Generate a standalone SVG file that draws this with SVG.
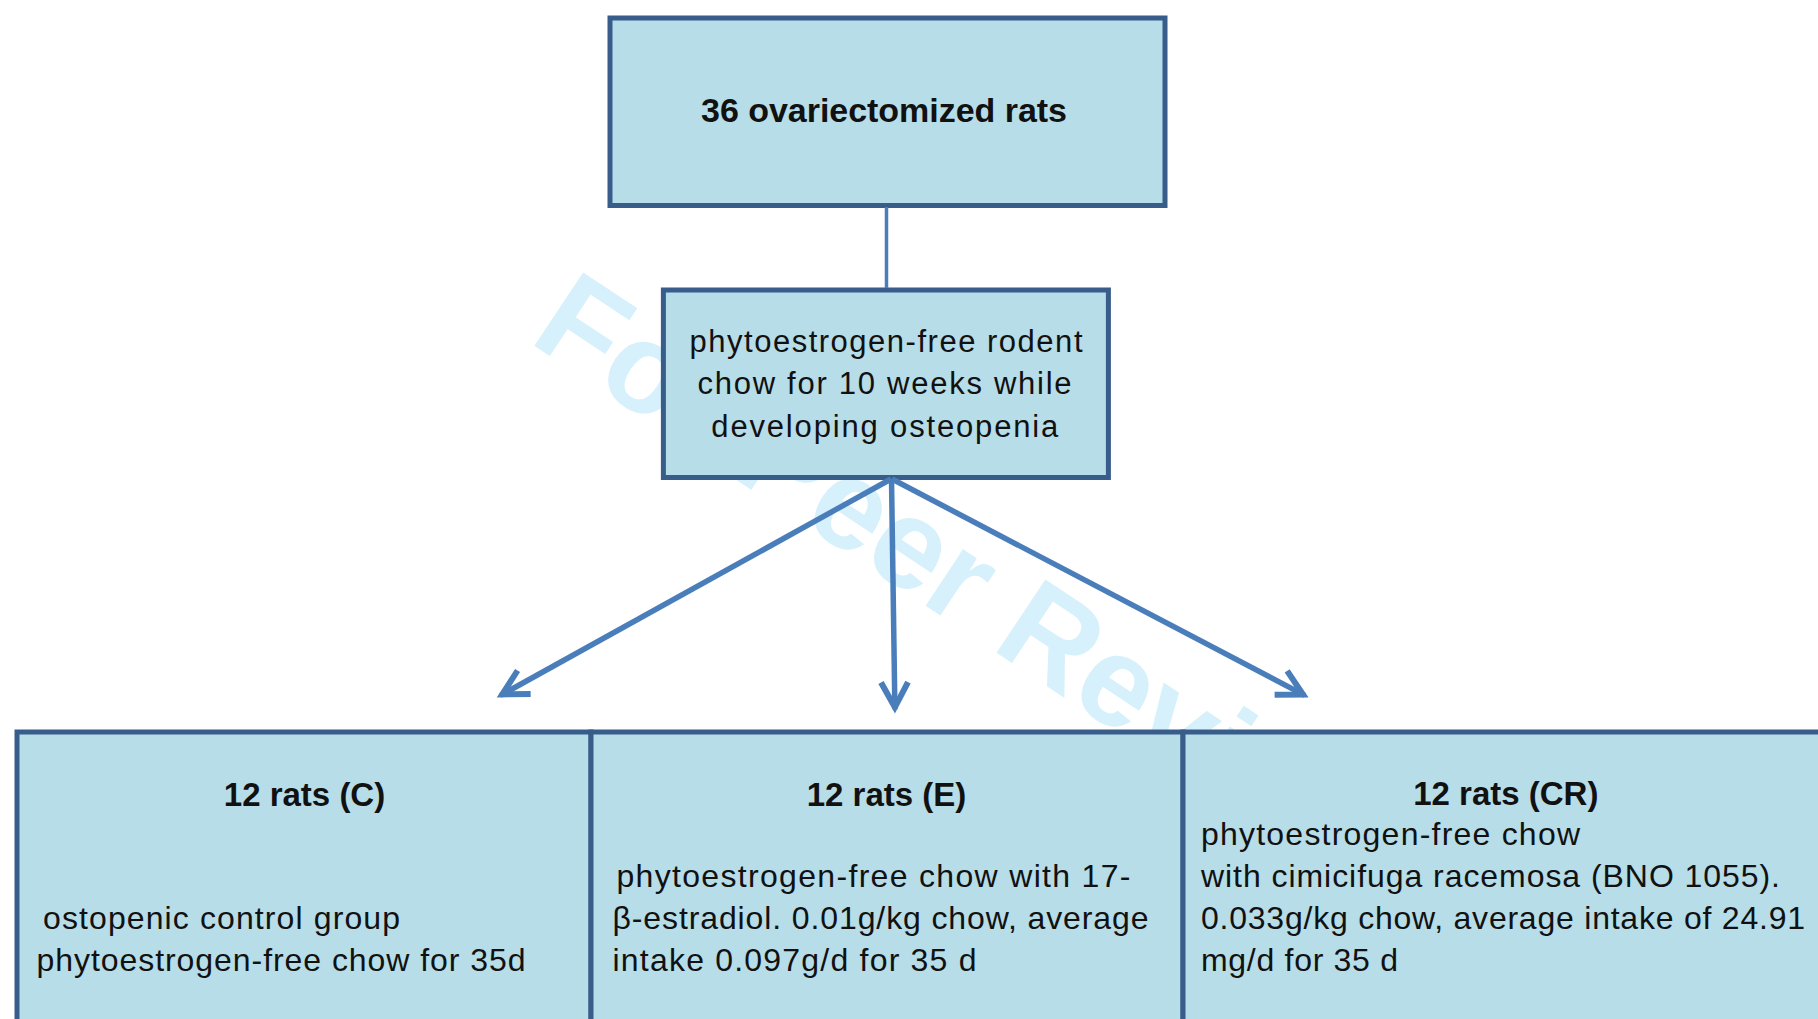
<svg xmlns="http://www.w3.org/2000/svg" width="1818" height="1019" viewBox="0 0 1818 1019">
  <style>
    .box { fill: #b7dde8; stroke: #385d8a; stroke-width: 5; }
    .t { font-family: "Liberation Sans", Arial, sans-serif; fill: #111; }
    .b { font-weight: bold; }
    .body { font-size: 32px; }
    .mid { font-size: 31px; }
    .ttl { font-size: 33px; text-anchor: middle; }
    .wm { font-family: "Liberation Sans", Arial, sans-serif; font-weight: bold; font-size: 128px; fill: #d6f0fc; }
    .conn { fill: none; stroke: #4a7ebb; stroke-width: 5.5; }
    .link { fill: none; stroke: #4a7ebb; stroke-width: 3.5; }
  </style>
  <defs>
    <marker id="ah" markerUnits="userSpaceOnUse" markerWidth="50" markerHeight="50" viewBox="-35 -25 50 50" refX="0" refY="0" orient="auto" overflow="visible">
      <path d="M-27,-13.5 L-2,0 L-27,13.5" fill="none" stroke="#4a7ebb" stroke-width="6" stroke-linejoin="miter"/>
    </marker>
  </defs>
  <rect x="0" y="0" width="1818" height="1019" fill="#ffffff"/>

  <g id="watermark">
    <text class="wm" x="0" y="0" transform="translate(527.3,340.9) rotate(33.6)">For Peer Review</text>
  </g>

  <g id="node-ovx">
    <rect class="box" x="610" y="18" width="555" height="187.5"/>
    <text class="t b" x="701" y="121.5" font-size="34" textLength="366">36 ovariectomized rats</text>
  </g>

  <g id="node-chow">
    <rect class="box" x="663.4" y="290" width="445" height="187.5"/>
    <text class="t mid" x="689.5" y="351.7" textLength="393">phytoestrogen-free rodent</text>
    <text class="t mid" x="697.5" y="394" textLength="374">chow for 10 weeks while</text>
    <text class="t mid" x="711.3" y="436.5" textLength="347">developing osteopenia</text>
  </g>

  <g id="node-C">
    <rect class="box" x="17" y="732" width="574" height="330"/>
    <text class="t b ttl" x="304.5" y="806">12 rats (C)</text>
    <text class="t body" x="43" y="929" textLength="357">ostopenic control group</text>
    <text class="t body" x="36.5" y="971" textLength="489">phytoestrogen-free chow for 35d</text>
  </g>

  <g id="node-E">
    <rect class="box" x="591" y="732" width="592" height="330"/>
    <text class="t b ttl" x="886.5" y="806">12 rats (E)</text>
    <text class="t body" x="616.5" y="887" textLength="514">phytoestrogen-free chow with 17-</text>
    <text class="t body" x="612.5" y="929" textLength="536">β-estradiol. 0.01g/kg chow, average</text>
    <text class="t body" x="612.5" y="971" textLength="364">intake 0.097g/d for 35 d</text>
  </g>

  <g id="node-CR">
    <rect class="box" x="1183" y="732" width="660" height="330"/>
    <text class="t b ttl" x="1505.8" y="805">12 rats (CR)</text>
    <text class="t body" x="1201" y="845" textLength="379">phytoestrogen-free chow</text>
    <text class="t body" x="1201" y="887" textLength="579">with cimicifuga racemosa (BNO 1055).</text>
    <text class="t body" x="1201" y="929" textLength="604">0.033g/kg chow, average intake of 24.91</text>
    <text class="t body" x="1201" y="971" textLength="197">mg/d for 35 d</text>
  </g>

  <g id="connectors">
    <line class="link" x1="886.5" y1="207" x2="886.5" y2="288"/>
    <line class="conn" x1="891" y1="479" x2="500.5" y2="695.4" marker-end="url(#ah)"/>
    <line class="conn" x1="891.5" y1="479" x2="894.9" y2="709.3" marker-end="url(#ah)"/>
    <line class="conn" x1="892" y1="479" x2="1304.8" y2="695.4" marker-end="url(#ah)"/>
  </g>
</svg>
